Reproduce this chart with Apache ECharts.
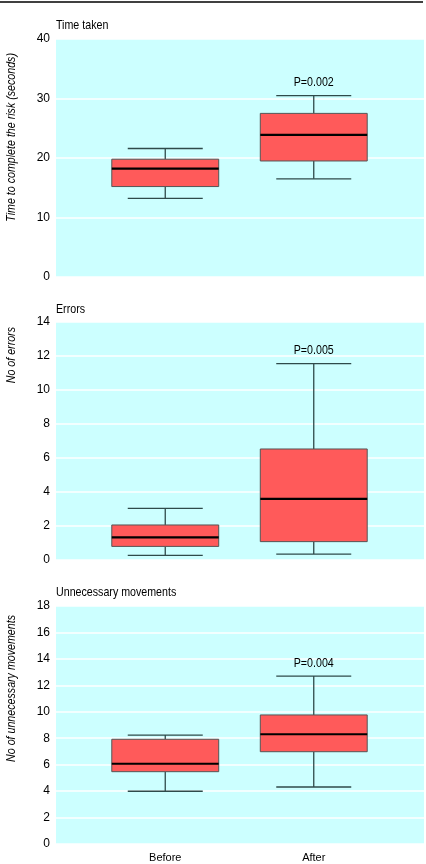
<!DOCTYPE html>
<html>
<head>
<meta charset="utf-8">
<script src="https://cdn.jsdelivr.net/npm/echarts@6/dist/echarts.min.js"></script>
<style>
html,body{margin:0;padding:0;background:#fff;}
#chart{width:426px;height:864px;}
</style>
</head>
<body>
<div id="chart"></div>
<script>
// ---- data ----
const categories = ['Before', 'After'];
// [lower whisker, Q1, median, Q3, upper whisker]
const timeStats = [[13.2, 15.2, 18.2, 19.8, 21.6], [16.5, 19.5, 23.9, 27.5, 30.5]];
const errorStats = [[0.27, 0.8, 1.33, 2.06, 3.04], [0.35, 1.08, 3.6, 6.53, 11.55]];
const moveStats = [[3.99, 5.47, 6.07, 7.92, 8.24], [4.31, 6.98, 8.3, 9.76, 12.7]];
const pValues = ['P=0.002', 'P=0.005', 'P=0.004'];
const panelTitles = ['Time taken', 'Errors', 'Unnecessary movements'];
const yNames = ['Time to complete the risk (seconds)', 'No of errors', 'No of unnecessary movements'];
const yMax = [40, 14, 18];
const yInterval = [10, 2, 2];

// ---- layout ----
const panelTops = [39, 322, 606];
const panelH = 238;
const titleYs = [25, 309, 592];
const nameTops = [53, 327, 615];
const font = "'Liberation Sans', Arial, sans-serif";
const squeeze = 0.82;
const allStats = [timeStats, errorStats, moveStats];

const grids = [], xAxes = [], yAxes = [], series = [], graphics = [];

graphics.push({
  type: 'line', shape: {x1: 0, y1: 2, x2: 423, y2: 2},
  style: {stroke: '#000', lineWidth: 1.5}, silent: true
});

allStats.forEach((stats, i) => {
  const top = panelTops[i];
  // background grid with y axis
  grids.push({left: 56, right: 2, top: top, height: panelH, show: true,
    backgroundColor: '#ccffff', borderWidth: 0, borderColor: 'transparent'});
  // box grid
  grids.push({left: 91, right: 38, top: top, height: panelH, show: false});
  const gBg = 2 * i, gBox = 2 * i + 1;
  xAxes.push({type: 'category', gridIndex: gBg, data: categories, show: false});
  xAxes.push({type: 'category', gridIndex: gBox, data: categories, boundaryGap: true,
    axisLine: {show: false}, axisTick: {show: false}, splitLine: {show: false},
    axisLabel: {show: i === 2, color: '#000', fontFamily: font, fontSize: 11, margin: 8}});
  yAxes.push({type: 'value', gridIndex: gBg, min: 0, max: yMax[i], interval: yInterval[i],
    axisLine: {show: false}, axisTick: {show: false},
    axisLabel: {color: '#000', fontFamily: font, fontSize: 12, margin: 6},
    splitLine: {show: true, lineStyle: {color: '#ffffff', width: 1.5}}});
  yAxes.push({type: 'value', gridIndex: gBox, min: 0, max: yMax[i], show: false,
    splitLine: {show: false}});

  graphics.push({
    type: 'text', x: 56, y: titleYs[i], scaleX: squeeze,
    style: {text: panelTitles[i], fontFamily: font, fontSize: 13, fill: '#000',
      align: 'left', verticalAlign: 'middle'}
  });
  graphics.push({
    type: 'text', x: 11, y: nameTops[i], rotation: Math.PI / 2, scaleX: squeeze,
    style: {text: yNames[i], fontFamily: font, fontSize: 13, fontStyle: 'italic',
      fill: '#000', align: 'right', verticalAlign: 'middle'}
  });

  const pLabel = pValues[i];
  series.push({
    type: 'custom', xAxisIndex: gBox, yAxisIndex: gBox,
    data: stats.map((s, j) => [j, s[0], s[1], s[2], s[3], s[4]]),
    encode: {x: 0, y: [1, 2, 3, 4, 5]},
    renderItem: function (params, api) {
      const idx = api.value(0);
      const lo = api.coord([idx, api.value(1)]);
      const q1 = api.coord([idx, api.value(2)]);
      const md = api.coord([idx, api.value(3)]);
      const q3 = api.coord([idx, api.value(4)]);
      const hi = api.coord([idx, api.value(5)]);
      const band = api.size([1, 0])[0];
      const bw = band * 0.72, cw = band * 0.505;
      const cx = lo[0];
      const wStyle = {stroke: '#2f4a4a', lineWidth: 1.3};
      const children = [
        {type: 'line', shape: {x1: cx, y1: hi[1], x2: cx, y2: q3[1]}, style: wStyle},
        {type: 'line', shape: {x1: cx, y1: q1[1], x2: cx, y2: lo[1]}, style: wStyle},
        {type: 'line', shape: {x1: cx - cw / 2, y1: hi[1], x2: cx + cw / 2, y2: hi[1]}, style: wStyle},
        {type: 'line', shape: {x1: cx - cw / 2, y1: lo[1], x2: cx + cw / 2, y2: lo[1]}, style: wStyle},
        {type: 'rect', shape: {x: cx - bw / 2, y: q3[1], width: bw, height: q1[1] - q3[1]},
          style: {fill: '#ff5a5a', stroke: '#555555', lineWidth: 1}},
        {type: 'line', shape: {x1: cx - bw / 2, y1: md[1], x2: cx + bw / 2, y2: md[1]},
          style: {stroke: '#000', lineWidth: 2.2}}
      ];
      if (idx === 1) {
        children.push({type: 'text', x: cx, y: hi[1] - 13, scaleX: squeeze,
          style: {text: pLabel, fontFamily: font, fontSize: 13, fill: '#000',
            align: 'center', verticalAlign: 'middle'}});
      }
      return {type: 'group', children: children};
    }
  });
});

const chart = echarts.init(document.getElementById('chart'), null, {renderer: 'canvas'});
chart.setOption({
  animation: false,
  backgroundColor: '#ffffff',
  grid: grids,
  xAxis: xAxes,
  yAxis: yAxes,
  series: series,
  graphic: graphics
});
</script>
</body>
</html>
